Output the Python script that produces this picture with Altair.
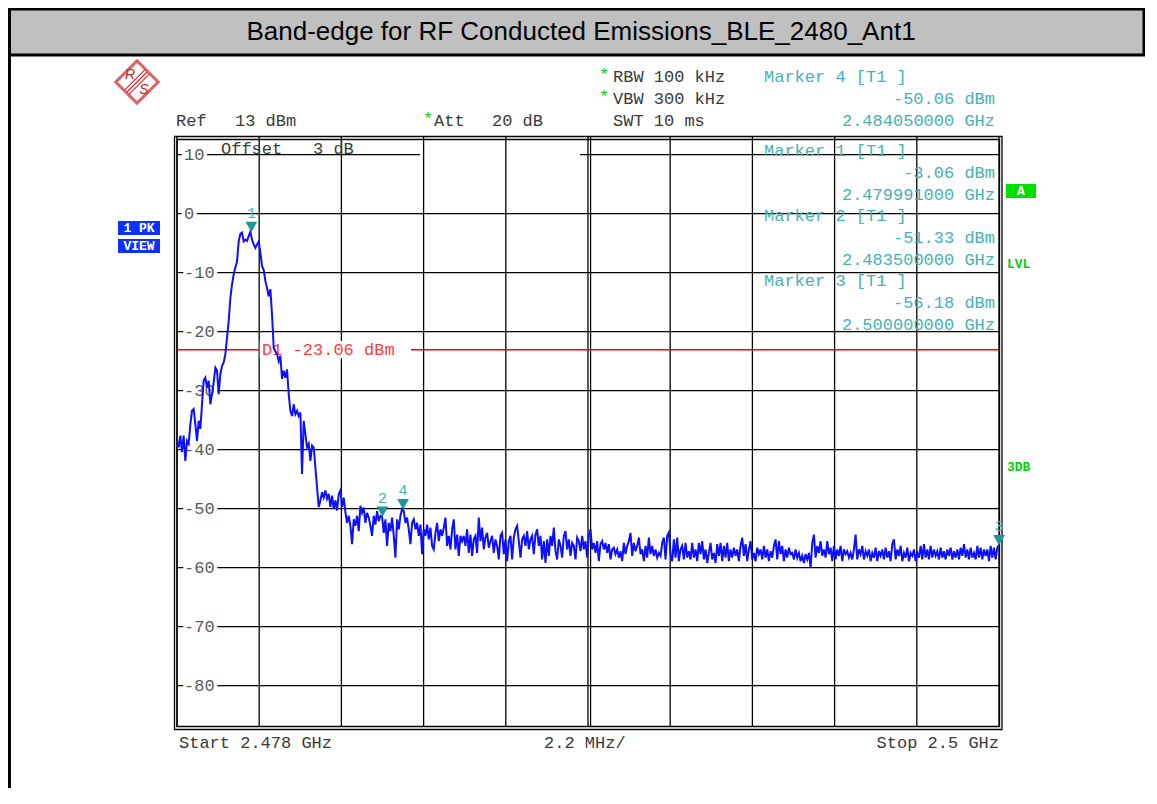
import altair as alt
import pandas as pd
import numpy as np

# ---------------- data ----------------
START_GHZ = 2.478
STOP_GHZ = 2.5
REF_LEVEL_DBM = 13
LOW_LEVEL_DBM = -87
TITLE = "Band-edge for RF Conducted Emissions_BLE_2480_Ant1"

# trace levels (dBm), sweep points in frequency order
levels_peak = [
    -38.5, -39.6, -37.6, -40.4, -37.6, -41.9, -38.5, -39.0, -35.7, -33.4,
    -33.1, -35.7, -38.5, -35.1, -36.5, -32.3, -28.3, -27.8, -29.5, -28.3,
    -32.3, -30.6, -28.6, -26.1, -26.6, -30.6, -27.2, -25.8, -25.2, -23.8,
    -21.0, -18.2, -14.3, -12.0, -10.3, -9.1, -8.1, -4.7, -3.4, -3.2,
    -4.7, -4.4, -4.6, -3.8, -3.06, -4.4, -5.2, -5.8, -5.2, -4.7,
    -6.6, -8.9, -9.5, -11.4, -12.6, -14.0, -12.8, -17.1, -22.7, -23.3,
    -23.8, -25.0, -24.1, -28.0, -26.6, -27.8, -26.4, -30.6, -33.4, -34.3,
    -32.3, -34.0, -33.4, -34.3, -33.7, -44.1, -35.1, -37.4, -39.6, -39.0,
    -41.9, -39.3, -39.6, -43.0, -46.4, -49.7, -48.6, -47.2, -48.1, -46.9,
    -48.3, -47.5, -49.7, -47.8, -50.0, -48.6, -50.3, -47.5, -46.9, -49.7,
    -48.1, -50.6,
]
levels_mid = [
    -52.4, -51.2, -52.9, -56.0, -51.8, -52.9, -51.2, -53.8, -49.5, -50.7,
    -49.8, -52.4, -50.7, -51.5, -52.9, -54.6, -51.2, -52.7, -50.4, -52.1,
    -51.2, -51.33, -54.1, -51.8, -56.3, -52.4, -53.8, -51.5, -54.6, -58.3,
    -51.8, -53.5, -51.2, -50.06, -50.4, -52.4, -51.5, -53.5, -56.0, -52.4,
    -51.8, -53.5, -52.4, -54.6, -52.7, -57.7, -53.5, -54.6, -52.7, -55.2,
    -53.2, -56.3, -56.9, -54.1, -52.4, -55.5, -53.5, -54.6, -53.2, -51.5,
    -56.3, -54.6, -56.9, -53.5, -51.8, -56.9, -54.4, -58.0, -54.6, -55.5,
    -54.6, -56.3, -53.5, -57.5, -54.4, -58.0, -55.2, -54.6, -57.5, -51.5,
    -55.5, -53.2, -56.9, -54.9, -54.1, -56.6, -55.5, -54.6, -57.5, -55.2,
    -56.3, -58.6, -54.6, -54.1, -57.7, -55.2, -58.9, -55.5, -54.6, -58.6,
    -54.9, -53.5, -52.9, -55.5, -58.3, -55.2, -54.6, -56.3, -53.8, -56.9,
    -55.2, -54.6, -57.7, -54.4, -53.5, -56.3, -54.6, -58.6, -55.5, -59.2,
    -55.2, -58.0, -54.6, -56.3, -53.2, -57.2, -58.6, -55.2, -56.3, -58.3,
    -54.6, -53.8, -56.9, -55.2, -58.0, -55.8, -56.3, -58.6, -54.9, -55.5,
    -57.2, -54.6, -56.9, -55.5, -58.3, -54.6, -53.5, -56.9, -55.8, -57.5,
    -55.5, -58.9, -56.0, -55.5, -56.9, -55.8, -57.5, -56.0, -58.6, -56.9,
    -56.6, -57.7, -56.9, -58.3, -57.2, -58.9, -55.8, -57.7, -56.3, -55.5,
    -54.1, -58.0, -55.8, -57.2, -56.3, -54.9, -57.7, -56.9, -58.9, -56.3,
    -58.3, -54.9, -57.7, -56.3, -58.0, -56.9, -58.3, -57.5,
]
levels_tail = [
    -58.0, -55.8, -54.9, -58.6, -54.6, -54.0, -57.7, -58.9, -55.2, -58.3,
    -54.9, -58.9, -56.9, -56.3, -58.6, -55.8, -58.3, -57.2, -58.6, -55.8,
    -58.3, -56.9, -58.9, -55.8, -57.7, -55.5, -58.6, -56.9, -59.2, -57.5,
    -55.8, -58.6, -57.5, -59.2, -56.0, -58.0, -55.8, -58.9, -56.3, -58.3,
    -55.8, -58.9, -56.9, -58.3, -56.6, -58.0, -56.9, -58.9, -56.3, -54.9,
    -58.0, -56.0, -58.9, -56.9, -55.5, -58.6, -57.5, -58.9, -56.6, -57.7,
    -56.9, -58.6, -56.3, -58.3, -56.9, -58.9, -57.2, -58.3, -56.3, -55.2,
    -58.6, -55.5, -57.7, -56.3, -58.9, -56.9, -58.3, -56.6, -57.7, -57.5,
    -58.6, -56.9, -58.3, -57.5, -58.9, -58.0, -59.2, -57.7, -58.6, -57.5,
    -60.0, -55.8, -54.4, -58.3, -56.3, -57.5, -55.5, -58.0, -56.9, -58.3,
    -55.5, -57.7, -56.6, -58.9, -56.3, -58.6, -56.9, -58.0, -56.3, -58.9,
    -56.9, -57.7, -57.2, -58.3, -57.5, -58.6, -56.9, -54.4, -58.6, -56.9,
    -57.7, -56.3, -58.6, -57.2, -58.0, -56.9, -58.9, -57.5, -58.3, -56.6,
    -58.9, -57.2, -58.0, -56.9, -58.6, -56.6, -58.3, -57.2, -58.9, -56.0,
    -55.2, -58.6, -56.9, -58.0, -56.3, -58.9, -57.5, -58.3, -56.6, -58.9,
    -57.5, -58.0, -56.9, -58.9, -57.5, -58.3, -56.3, -58.6, -56.0, -58.3,
    -56.9, -58.6, -56.3, -58.3, -56.9, -58.0, -57.2, -58.6, -56.6, -58.3,
    -57.2, -58.6, -56.9, -58.0, -56.6, -58.6, -57.2, -58.3, -56.9, -58.6,
    -56.6, -58.0, -56.0, -58.3, -56.9, -58.6, -56.6, -58.3, -57.5, -58.6,
    -56.3, -58.3, -56.6, -58.6, -56.9, -58.0, -56.9, -58.9, -56.3, -58.3,
    -56.6, -58.6, -56.6, -56.18,
]

marker_ids = ["1", "2", "3", "4"]
marker_freq_ghz = [2.479991, 2.4835, 2.5, 2.48405]
marker_level_dbm = [-3.06, -51.33, -56.18, -50.06]

d1_level_dbm = -23.06

grid_freq_ghz = [2.478, 2.4802, 2.4824, 2.4846, 2.4868, 2.489,
                 2.4912, 2.4934, 2.4956, 2.4978, 2.5]
grid_level_dbm = [10, 0, -10, -20, -30, -40, -50, -60, -70, -80]
grid_level_labels = ["10", "0", "-10", "-20", "-30", "-40", "-50", "-60", "-70", "-80"]

ref_text = ["Ref", "13 dBm"]
att_text = ["Att", "20 dB"]
settings_bw = ["RBW 100 kHz", "VBW 300 kHz", "SWT 10 ms"]
offset_text = ["Offset", "3 dB"]
x_labels = ["Start 2.478 GHz", "2.2 MHz/", "Stop 2.5 GHz"]

# ---------------- layout / style ----------------
W, H = 822, 590          # plot (grid) area in px
OX, OY = 177, 137        # page position of the plot origin
PAD = {"left": OX - 8, "top": OY - 8, "right": 146, "bottom": 61}
MONO = "Liberation Mono"
SANS = "Liberation Sans"
FS = 17
TEAL_TXT = "#45b3b3"
TEAL_MK = "#1c9797"
GREEN = "#00d000"
BLUE = "#1030ff"
TRACE = "#0f0fff"
GRAY = "#3a3a3a"
RED_LOGO = "#d42020"

xs = alt.Scale(domain=[START_GHZ, STOP_GHZ], nice=False, zero=False)
ys = alt.Scale(domain=[LOW_LEVEL_DBM, REF_LEVEL_DBM], nice=False, zero=False)

ONE = pd.DataFrame({"k": [0]})


def ptext(txt, px, py, color=GRAY, size=FS, align="left", weight="normal",
          font=MONO, baseline="middle", style="normal"):
    return alt.Chart(ONE).mark_text(
        text=txt, align=align, baseline=baseline, font=font, fontSize=size,
        fontWeight=weight, color=color, fontStyle=style
    ).encode(x=alt.value(px - OX), y=alt.value(py - OY))


def prect(x1, y1, x2, y2, fill=None, stroke=None, sw=1.0):
    kw = {}
    if fill is not None:
        kw["fill"] = fill
    else:
        kw["fillOpacity"] = 0
    if stroke is not None:
        kw["stroke"] = stroke
        kw["strokeWidth"] = sw
    return alt.Chart(ONE).mark_rect(**kw).encode(
        x=alt.value(x1 - OX), x2=alt.value(x2 - OX),
        y=alt.value(y1 - OY), y2=alt.value(y2 - OY))


def prule(x1, y1, x2, y2, color="black", sw=1.0):
    return alt.Chart(ONE).mark_rule(color=color, strokeWidth=sw).encode(
        x=alt.value(x1 - OX), x2=alt.value(x2 - OX),
        y=alt.value(y1 - OY), y2=alt.value(y2 - OY))


layers = []

# title bar and page frame
layers.append(prect(9, 9, 1144, 55, fill="#c0c0c0", stroke="black", sw=3))
layers.append(prule(9.5, 8, 9.5, 790, sw=3))
layers.append(ptext(TITLE, 581, 32, color="black", size=26, align="center", font=SANS))

# R&S logo
layers.append(alt.Chart(ONE).mark_point(shape="square", angle=45, filled=False,
                                        stroke=RED_LOGO, strokeWidth=3, size=900)
              .encode(x=alt.value(137 - OX), y=alt.value(82 - OY)))
for d in (-2.2, 0, 2.2):
    layers.append(prule(127 + d, 92 + d, 147 + d, 72 + d, color=RED_LOGO, sw=1.1))
layers.append(ptext("R", 130, 75, color=RED_LOGO, size=14, font=SANS, align="center", style="italic"))
layers.append(ptext("S", 144, 90, color=RED_LOGO, size=14, font=SANS, align="center", style="italic"))

# header settings
layers.append(ptext(ref_text[0], 176, 121))
layers.append(ptext(ref_text[1], 235, 121))
layers.append(ptext("*", 423, 119, color=GREEN, size=FS))
layers.append(ptext(att_text[0], 434, 121))
layers.append(ptext(att_text[1], 492, 121))
for i, t in enumerate(settings_bw):
    if i < 2:
        layers.append(ptext("*", 599, 75 + 22 * i, color=GREEN, size=FS))
    layers.append(ptext(t, 613, 77 + 22 * i))

# status boxes
layers.append(prect(118, 221, 160, 235, fill=BLUE))
layers.append(prect(118, 239, 160, 253, fill=BLUE))
layers.append(ptext("1 PK", 139, 228, color="white", size=13, align="center", weight="bold"))
layers.append(ptext("VIEW", 139, 246, color="white", size=13, align="center", weight="bold"))
layers.append(prect(1006, 184, 1036, 198, fill="#00e000"))
layers.append(ptext("A", 1021, 191, color="white", size=13, align="center", weight="bold"))
layers.append(ptext("LVL", 1007, 264, color=GREEN, size=13, weight="bold"))
layers.append(ptext("3DB", 1007, 467, color=GREEN, size=13, weight="bold"))

# bottom labels
layers.append(ptext(x_labels[0], 179, 743))
layers.append(ptext(x_labels[1], 544, 743))
layers.append(ptext(x_labels[2], 999, 743, align="right"))

# grid
gx = pd.DataFrame({"f": grid_freq_ghz})
gy = pd.DataFrame({"lv": grid_level_dbm, "lab": grid_level_labels})
layers.append(alt.Chart(gx).mark_rule(color="black", strokeWidth=1.3).encode(
    x=alt.X("f:Q", scale=xs, axis=None), y=alt.value(0), y2=alt.value(H)))
layers.append(alt.Chart(gx[gx.f == 2.489]).mark_rule(color="black", strokeWidth=1.2, xOffset=2.6).encode(
    x=alt.X("f:Q", scale=xs, axis=None), y=alt.value(0), y2=alt.value(H)))
gy_full = gy[gy.lv != 10]
gy_top = gy[gy.lv == 10]
layers.append(alt.Chart(gy_full).mark_rule(color="black", strokeWidth=1.3).encode(
    y=alt.Y("lv:Q", scale=ys, axis=None), x=alt.value(0), x2=alt.value(W)))
# top (10 dB) line: broken behind the offset label area
layers.append(alt.Chart(gy_top).mark_rule(color="black", strokeWidth=1.3).encode(
    y=alt.Y("lv:Q", scale=ys, axis=None), x=alt.value(0), x2=alt.value(420 - OX)))
layers.append(alt.Chart(gy_top).mark_rule(color="black", strokeWidth=1.3).encode(
    y=alt.Y("lv:Q", scale=ys, axis=None), x=alt.value(580 - OX), x2=alt.value(W)))
# frame (double line)
layers.append(prect(174.5, 136.5, 1002, 729.5, stroke="black", sw=1.3))
layers.append(prect(177, 139.5, 999.5, 726.5, stroke="black", sw=1.3))

# display line D1 (interrupted by its label)
dl = pd.DataFrame({"d": [d1_level_dbm], "lab": [f"D1 {d1_level_dbm:.2f} dBm"]})
layers.append(alt.Chart(dl).mark_rule(color="#ff0000", strokeWidth=1.5).encode(
    y=alt.Y("d:Q", scale=ys, axis=None), x=alt.value(0), x2=alt.value(260 - OX)))
layers.append(alt.Chart(dl).mark_rule(color="#ff0000", strokeWidth=1.5).encode(
    y=alt.Y("d:Q", scale=ys, axis=None), x=alt.value(411 - OX), x2=alt.value(W)))

# labels on grid with white halo
layers.append(alt.Chart(gy).mark_text(align="left", baseline="middle", font=MONO, fontSize=FS,
                                      color="white", stroke="white", strokeWidth=7).encode(
    y=alt.Y("lv:Q", scale=ys, axis=None), x=alt.value(7), text="lab:N"))
layers.append(alt.Chart(gy).mark_text(align="left", baseline="middle", font=MONO, fontSize=FS,
                                      color="#5a5a5a").encode(
    y=alt.Y("lv:Q", scale=ys, axis=None), x=alt.value(7), text="lab:N"))
layers.append(alt.Chart(dl).mark_text(align="left", baseline="middle", font=MONO, fontSize=FS,
                                      color="white", stroke="white", strokeWidth=7).encode(
    y=alt.Y("d:Q", scale=ys, axis=None), x=alt.value(262 - OX), text="lab:N"))
layers.append(alt.Chart(dl).mark_text(align="left", baseline="middle", font=MONO, fontSize=FS,
                                      color="#ff3c3c").encode(
    y=alt.Y("d:Q", scale=ys, axis=None), x=alt.value(262 - OX), text="lab:N"))
layers.append(ptext(offset_text[0], 221, 149))
layers.append(ptext(offset_text[1], 313, 149))

# marker readouts
order = ["4", "1", "2", "3"]
base_y = [77, 151, 216, 281]
for mid_, by in zip(order, base_y):
    k = marker_ids.index(mid_)
    layers.append(ptext(f"Marker {mid_} [T1 ]", 764, by, color=TEAL_TXT))
    layers.append(ptext(f"{marker_level_dbm[k]:.2f} dBm", 995, by + 22, color=TEAL_TXT, align="right"))
    layers.append(ptext(f"{marker_freq_ghz[k]:.9f} GHz", 995, by + 44, color=TEAL_TXT, align="right"))

# trace
levels = levels_peak + levels_mid + levels_tail
trace = pd.DataFrame({"freq": np.linspace(START_GHZ, STOP_GHZ, len(levels)), "level": levels})
layers.append(alt.Chart(trace).mark_line(color=TRACE, strokeWidth=2).encode(
    x=alt.X("freq:Q", scale=xs, axis=None), y=alt.Y("level:Q", scale=ys, axis=None)))

# markers
mk = pd.DataFrame({"id": marker_ids, "f": marker_freq_ghz, "lv": marker_level_dbm})
layers.append(alt.Chart(mk).mark_point(shape="triangle-down", filled=True, size=140,
                                       color=TEAL_MK, opacity=1, yOffset=-5).encode(
    x=alt.X("f:Q", scale=xs, axis=None), y=alt.Y("lv:Q", scale=ys, axis=None)))
layers.append(alt.Chart(mk).mark_text(font=MONO, fontSize=15, color=TEAL_TXT, dy=-19,
                                      baseline="middle").encode(
    x=alt.X("f:Q", scale=xs, axis=None), y=alt.Y("lv:Q", scale=ys, axis=None), text="id:N"))

chart = alt.layer(*layers).properties(
    width=W, height=H, padding=PAD,
    autosize=alt.AutoSizeParams(type="none"),
    background="white",
).configure_view(stroke=None)

chart.save("out.html", embed_options={"renderer": "svg", "actions": False})
